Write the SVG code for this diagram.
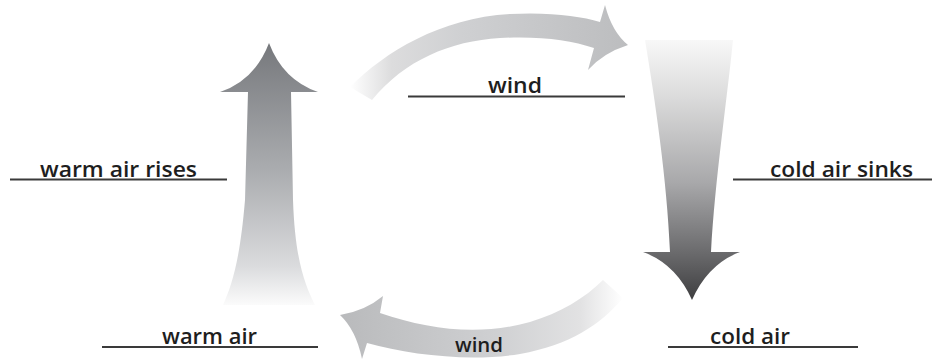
<svg xmlns="http://www.w3.org/2000/svg" width="942" height="361" viewBox="0 0 942 361">
<defs>
<style>
.lbl{font-family:"Open Sans","Noto Sans","Liberation Sans",sans-serif;font-weight:600;font-size:22px;fill:#1e1e1e;}
.ul{stroke:#3a3a3a;stroke-width:2;fill:none;}
</style>
<linearGradient id="gUp" x1="0" y1="43" x2="0" y2="305" gradientUnits="userSpaceOnUse">
<stop offset="0" stop-color="#76787c"/>
<stop offset="0.5" stop-color="#acaeb1"/>
<stop offset="0.85" stop-color="#dadbdd"/>
<stop offset="1" stop-color="#fbfbfb"/>
</linearGradient>
<linearGradient id="gDown" x1="0" y1="40" x2="0" y2="300" gradientUnits="userSpaceOnUse">
<stop offset="0" stop-color="#f8f8f8"/>
<stop offset="0.2" stop-color="#dedede"/>
<stop offset="0.55" stop-color="#a8a8aa"/>
<stop offset="0.82" stop-color="#6a6a6c"/>
<stop offset="1" stop-color="#3e3e40"/>
</linearGradient>
<linearGradient id="gTop" x1="350" y1="0" x2="628" y2="0" gradientUnits="userSpaceOnUse">
<stop offset="0" stop-color="#ffffff"/>
<stop offset="0.15" stop-color="#dcdcdd"/>
<stop offset="0.4" stop-color="#cfd0d2"/>
<stop offset="1" stop-color="#bcbdbf"/>
</linearGradient>
<linearGradient id="gBot" x1="340" y1="0" x2="623" y2="0" gradientUnits="userSpaceOnUse">
<stop offset="0" stop-color="#b9babc"/>
<stop offset="0.55" stop-color="#cfd0d2"/>
<stop offset="0.85" stop-color="#e2e2e3"/>
<stop offset="1" stop-color="#ffffff"/>
</linearGradient>
</defs>
<g id="connectors">
<path id="arrow-rise" fill="url(#gUp)" d="M269 43 Q283 80 318 92 L291 92 L293 200 C295 260 305 285 315 305 L223 305 C232 285 240 260 245 200 L248 92 L220 92 Q255 80 269 43 Z"/>
<path id="arrow-sink" fill="url(#gDown)" d="M645 40 L733 40 C727 100 715 180 711 252 L740 252 Q708 264 692 300 Q676 264 643 252 L670 252 C667 180 655 100 645 40 Z"/>
<path id="arrow-wind-top" fill="url(#gTop)" d="M350 87 C385 52 440 18 510 14 C550 12 580 16 600 22 L605 5 Q612 32 628 45 Q603 53 588 70 L594 48 C570 40 540 36 500 38 C450 41 405 60 372 100 Z"/>
<path id="arrow-wind-bottom" fill="url(#gBot)" d="M340 315 Q365 311 383 296 L380 313 C430 330 480 336 530 322 C560 313 585 298 603 280 L623 298 C600 325 570 345 520 354 C470 362 410 355 367 343 L362 359 Q356 330 340 315 Z"/>
</g>
<g id="label-wind-top">
<text class="lbl" x="488" y="93" textLength="54" lengthAdjust="spacingAndGlyphs">wind</text>
<line class="ul" x1="408" y1="96.5" x2="625" y2="96.5"/>
</g>
<g id="label-warm-air-rises">
<text class="lbl" x="40" y="177" textLength="157" lengthAdjust="spacingAndGlyphs">warm air rises</text>
<line class="ul" x1="10" y1="179.5" x2="227" y2="179.5"/>
</g>
<g id="label-cold-air-sinks">
<text class="lbl" x="770" y="177" textLength="143" lengthAdjust="spacingAndGlyphs">cold air sinks</text>
<line class="ul" x1="733" y1="179.5" x2="932" y2="179.5"/>
</g>
<g id="label-warm-air">
<text class="lbl" x="162" y="344" textLength="95" lengthAdjust="spacingAndGlyphs">warm air</text>
<line class="ul" x1="102" y1="347" x2="318" y2="347"/>
</g>
<g id="label-cold-air">
<text class="lbl" x="710" y="344" textLength="80" lengthAdjust="spacingAndGlyphs">cold air</text>
<line class="ul" x1="668" y1="347" x2="858" y2="347"/>
</g>
<g id="label-wind-bottom">
<text class="lbl" x="455" y="352" style="font-size:20px" textLength="48" lengthAdjust="spacingAndGlyphs">wind</text>
</g>
</svg>
